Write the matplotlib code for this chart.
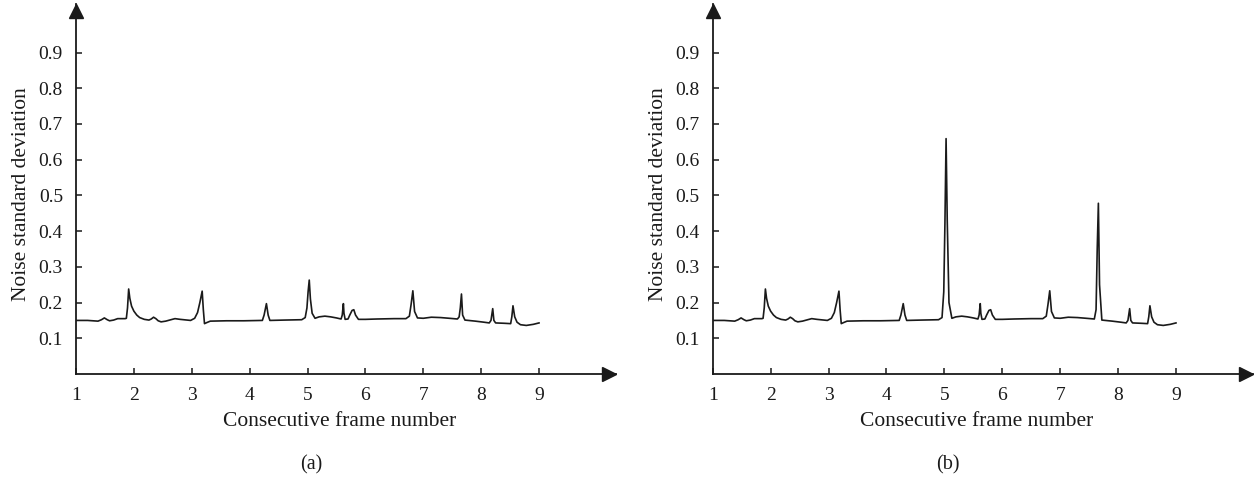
import matplotlib
matplotlib.use("Agg")
import matplotlib.pyplot as plt
from matplotlib.transforms import offset_copy

# ---------------- data ----------------
frame_a = [1.00, 1.20, 1.38, 1.44, 1.49, 1.54, 1.58, 1.65, 1.72, 1.85, 1.87, 1.89, 1.91,
           1.93, 1.96, 2.00, 2.05, 2.10, 2.18, 2.26, 2.30, 2.34, 2.38, 2.42, 2.47, 2.55,
           2.64, 2.71, 2.80, 2.98, 3.05, 3.10, 3.14, 3.18, 3.20, 3.22, 3.26, 3.32, 3.60,
           3.90, 4.22, 4.25, 4.29, 4.32, 4.35, 4.60, 4.90, 4.96, 4.99, 5.01, 5.03, 5.05,
           5.08, 5.13, 5.20, 5.30, 5.40, 5.50, 5.58, 5.60, 5.62, 5.63, 5.65, 5.70, 5.73,
           5.77, 5.80, 5.83, 5.88, 6.00, 6.20, 6.50, 6.70, 6.76, 6.79, 6.82, 6.85, 6.90,
           7.00, 7.14, 7.30, 7.45, 7.59, 7.62, 7.64, 7.66, 7.68, 7.72, 7.90, 8.05, 8.14,
           8.17, 8.20, 8.22, 8.25, 8.40, 8.51, 8.53, 8.55, 8.58, 8.62, 8.68, 8.78, 8.90,
           9.00]
noise_a = [0.150, 0.150, 0.148, 0.152, 0.157, 0.152, 0.149, 0.151, 0.155, 0.155, 0.156, 0.185, 0.238,
           0.212, 0.190, 0.176, 0.165, 0.158, 0.153, 0.151, 0.154, 0.159, 0.155, 0.149, 0.146, 0.148,
           0.152, 0.155, 0.153, 0.150, 0.156, 0.172, 0.200, 0.232, 0.180, 0.141, 0.144, 0.148, 0.149,
           0.149, 0.150, 0.165, 0.197, 0.165, 0.150, 0.151, 0.152, 0.158, 0.185, 0.230, 0.263, 0.210,
           0.170, 0.156, 0.160, 0.162, 0.160, 0.157, 0.154, 0.165, 0.197, 0.170, 0.153, 0.154, 0.165,
           0.178, 0.180, 0.165, 0.153, 0.153, 0.154, 0.155, 0.155, 0.162, 0.195, 0.233, 0.175, 0.157,
           0.156, 0.159, 0.158, 0.156, 0.154, 0.160, 0.185, 0.224, 0.165, 0.151, 0.148, 0.145, 0.143,
           0.150, 0.183, 0.150, 0.143, 0.142, 0.141, 0.160, 0.191, 0.160, 0.145, 0.138, 0.136, 0.139,
           0.143]

# panel (b): same sequence, with two large spikes
frame_b = frame_a
noise_b = list(noise_a)
_spikes_b = {4.99: 0.230, 5.01: 0.420, 5.03: 0.659, 5.05: 0.430, 5.08: 0.200,
             7.62: 0.180, 7.64: 0.350, 7.66: 0.478, 7.68: 0.250}
for _x, _v in _spikes_b.items():
    noise_b[frame_b.index(_x)] = _v

x_ticks = [1, 2, 3, 4, 5, 6, 7, 8, 9]
y_ticks = [0.1, 0.2, 0.3, 0.4, 0.5, 0.6, 0.7, 0.8, 0.9]
x_label = "Consecutive frame number"
y_label = "Noise standard deviation"
panel_labels = ["(a)", "(b)"]

# ---------------- figure ----------------
plt.rcParams["font.family"] = ["Liberation Serif", "DejaVu Serif"]
INK = "#1a1a1a"
W, H = 1257, 479
fig = plt.figure(figsize=(W / 100, H / 100), dpi=100)

def px_axes(x0, x1, y_bottom, y_top):
    return fig.add_axes([x0 / W, (H - y_bottom) / H, (x1 - x0) / W, (y_bottom - y_top) / H])

panels = [
    (px_axes(76, 616, 374, 4), frame_a, noise_a, 10.33),
    (px_axes(712.7, 1253, 374, 4), frame_b, noise_b, 10.33),
]

for i, (ax, xs, ys, xmax) in enumerate(panels):
    ax.plot(xs, ys, color=INK, lw=1.2, solid_joinstyle="round")
    ax.set_xlim(1, xmax)
    ax.set_ylim(0, 1.036)
    for s in ["top", "right"]:
        ax.spines[s].set_visible(False)
    for s in ["left", "bottom"]:
        ax.spines[s].set_linewidth(1.3)
        ax.spines[s].set_color(INK)
    ax.set_xticks(x_ticks)
    ax.set_xticklabels([str(t) for t in x_ticks])
    ax.set_yticks(y_ticks)
    ax.set_yticklabels([f"{t:.1f}" for t in y_ticks])
    ax.tick_params(axis="both", direction="in", length=4.5, width=1.1, color=INK,
                   labelsize=14, labelcolor=INK)
    ax.tick_params(axis="x", pad=9)
    ax.tick_params(axis="y", pad=9.4)
    ax.set_facecolor("none")
    # arrow heads, tips at the ends of the axes
    ms = 10
    half = ms * 100 / 72 / 2
    ax.plot(1, 0, marker=">", color=INK, markersize=ms, clip_on=False,
            transform=offset_copy(ax.transAxes, fig=fig, x=-half, y=0, units="dots"))
    ax.plot(0, 1, marker="^", color=INK, markersize=ms, clip_on=False,
            transform=offset_copy(ax.transAxes, fig=fig, x=0, y=-half, units="dots"))
    ax.set_xlabel(x_label, fontsize=15.5, color=INK)
    ax.xaxis.set_label_coords(0.489, -0.103)
    ax.set_ylabel(y_label, fontsize=15.5, color=INK)
    ax.yaxis.set_label_coords(-0.083, 0.485)
    ax.text(0.436, -0.246, panel_labels[i], transform=ax.transAxes, ha="center",
            va="center", fontsize=14.5, color=INK)

fig.savefig("out.png", dpi=100, facecolor="white")
